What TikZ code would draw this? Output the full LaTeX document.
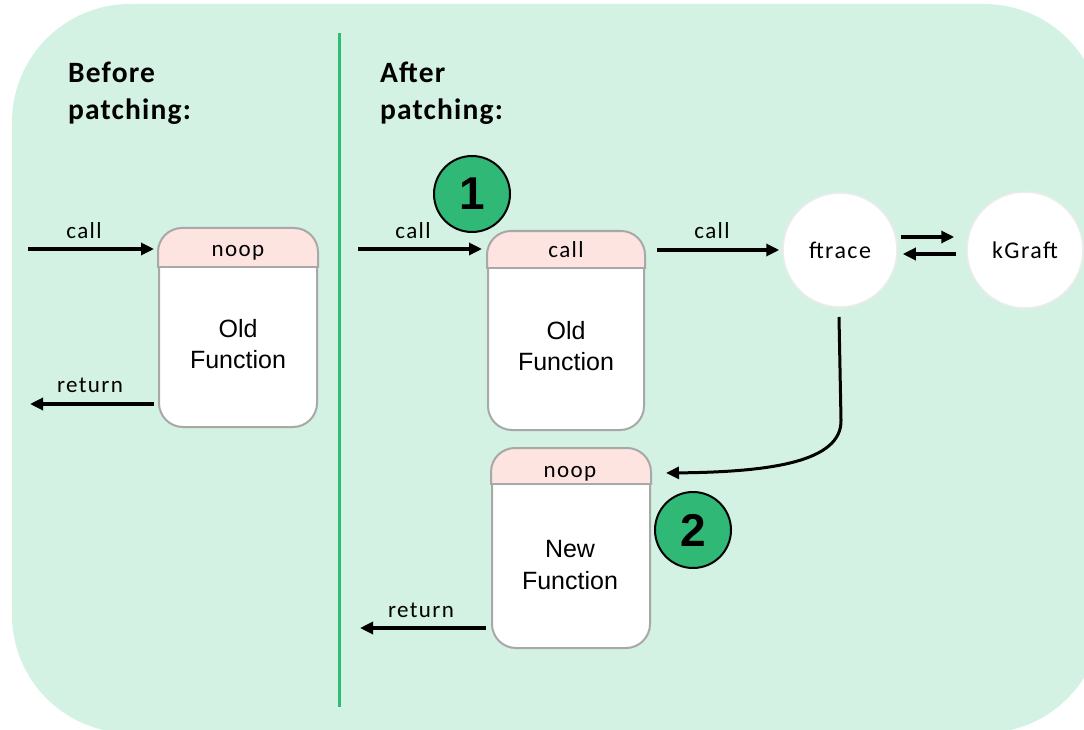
\documentclass[tikz,border=0pt]{standalone}
\usepackage{fontspec}
\setmainfont{Carlito}
\newfontfamily\lblfont[LetterSpace=6]{Carlito}
\newfontfamily\headfont[LetterSpace=4]{Carlito}
\newfontfamily\arialf{Liberation Sans}
\usetikzlibrary{arrows.meta}
\definecolor{bg}{HTML}{D3F2E3}
\definecolor{divg}{HTML}{2EBD74}
\definecolor{hdr}{HTML}{FDE4E0}
\definecolor{bord}{HTML}{A8A8A8}
\definecolor{numg}{HTML}{2FB876}
\definecolor{circb}{HTML}{ECECEC}
\begin{document}
\begin{tikzpicture}[x=1pt,y=-1pt,
  fnbox/.style={draw=bord, line width=2pt, fill=white, rounded corners=24pt, inner sep=0pt},
  hline/.style={draw=bord, line width=2pt},
  boxtxt/.style={font=\arialf\fontsize{25}{30}\selectfont, inner sep=0pt},
  lbl/.style={font=\lblfont\fontsize{23}{27}\selectfont, inner sep=0pt},
  head/.style={font=\headfont\bfseries\fontsize{29.5}{34}\selectfont, inner sep=0pt},
  circ/.style={circle, fill=white, draw=circb, line width=1.5pt, minimum size=114pt, inner sep=0pt, font=\lblfont\fontsize{24}{28}\selectfont},
  num/.style={circle, fill=numg, draw=black, line width=2pt, minimum size=76pt, inner sep=0pt, font=\arialf\bfseries\fontsize{46}{50}\selectfont},
  arr/.style={line width=3.2pt, -{Triangle[length=13pt,width=12pt]}}
]
\useasboundingbox (0,0) rectangle (1084,730);
\clip (0,0) rectangle (1084,730);
\fill[bg, rounded corners=118pt] (12,4) rectangle (1102,733);
\draw[divg, line width=3pt] (339,33) -- (339,707);

% headings
\node[head, anchor=base west] (hb1) at (68,83) {Before};
\node[head, anchor=base west] (hb2) at (68,120) {patching:};
\node[head, anchor=base west] (ha1) at (380,83) {After};
\node[head, anchor=base west] (ha2) at (380,120) {patching:};

% boxes
\node[fnbox, minimum width=158pt, minimum height=198pt] (oldA) at (238,328) {};
\begin{scope}
  \clip (150,220) rectangle (330,267);
  \path[fnbox, fill=hdr] (oldA.north west) rectangle (oldA.south east);
\end{scope}
\draw[hline] (159,267) -- (317,267);

\node[fnbox, minimum width=156pt, minimum height=198pt] (oldB) at (566,331) {};
\begin{scope}
  \clip (480,220) rectangle (660,268);
  \path[fnbox, fill=hdr] (oldB.north west) rectangle (oldB.south east);
\end{scope}
\draw[hline] (488,268) -- (644,268);

\node[fnbox, minimum width=158pt, minimum height=199pt] (newF) at (571,548.5) {};
\begin{scope}
  \clip (480,440) rectangle (660,484);
  \path[fnbox, fill=hdr] (newF.north west) rectangle (newF.south east);
\end{scope}
\draw[hline] (492,484) -- (650,484);

% box texts
\node[lbl, anchor=base] (hA) at (238,256) {noop};
\node[boxtxt, anchor=base] (tA1) at (238,337) {Old};
\node[boxtxt, anchor=base] (tA2) at (238,368) {Function};
\node[lbl, anchor=base] (hB) at (566,257) {call};
\node[boxtxt, anchor=base] (tB1) at (566,339) {Old};
\node[boxtxt, anchor=base] (tB2) at (566,370) {Function};
\node[lbl, anchor=base] (hN) at (570,477) {noop};
\node[boxtxt, anchor=base] (tN1) at (570,557) {New};
\node[boxtxt, anchor=base] (tN2) at (570,589) {Function};

% circles
\node[circ] (ft) at (840,250) {ftrace};
\node[circ, minimum size=116pt] (kg) at (1025,250) {kGraft};

% numbers
\node[num] (n1) at (472,194) {1};
\node[num] (n2) at (693,530) {2};

% left arrows
\coordinate (inA) at (28,249);
\draw[arr, shorten >=4pt] (inA) -- (oldA.west |- inA);
\node[lbl, anchor=base] (lc1) at (84,239) {call};
\coordinate (outA) at (30,404);
\draw[arr, shorten <=4pt] (oldA.west |- outA) -- (outA);
\node[lbl, anchor=base] (lr1) at (90,392) {return};

% right arrows
\coordinate (inB) at (358,249);
\draw[arr, shorten >=5pt] (inB) -- (oldB.west |- inB);
\node[lbl, anchor=base] (lc2) at (413,239) {call};
\draw[arr, shorten <=12pt, shorten >=3pt] (oldB.east |- ft.west) -- (ft.west);
\node[lbl, anchor=base] (lc3) at (712,239) {call};
\draw[arr, shorten <=3pt, shorten >=12pt] ([yshift=13pt]ft.east) -- ([yshift=13pt]kg.west);
\draw[arr, shorten <=10pt, shorten >=5pt] ([yshift=-4pt]kg.west) -- ([yshift=-4pt]ft.east);

\coordinate (cs) at (839,317);
\coordinate (ce) at (666,473);
\draw[line width=3pt] (cs) -- (841,420);
\draw[arr, line width=3pt] (841,420) .. controls (842,462) and (770,472) .. (ce);

\coordinate (outB) at (360,628);
\draw[arr, shorten <=5pt] (newF.west |- outB) -- (outB);
\node[lbl, anchor=base] (lr2) at (421,617) {return};
\end{tikzpicture}
\end{document}
